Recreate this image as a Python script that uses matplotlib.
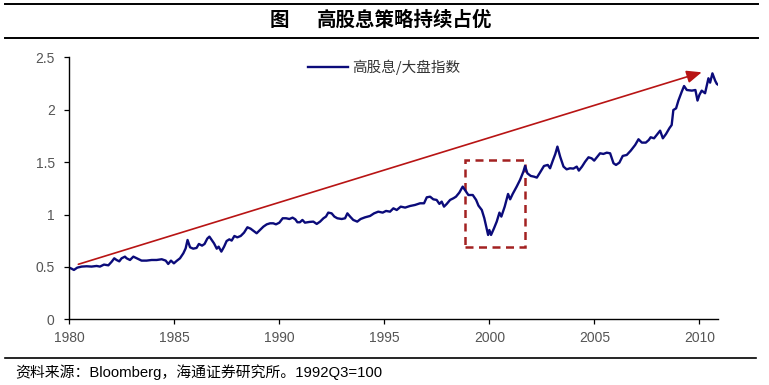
import matplotlib
matplotlib.use("Agg")
import matplotlib.pyplot as plt
from matplotlib.patches import Rectangle
from matplotlib.lines import Line2D

plt.rcParams['font.family'] = ['Liberation Sans', 'Noto Sans CJK SC', 'DejaVu Sans']

# ---- data (decimal year, ratio) ----
years = [
    1980.00, 1980.11, 1980.22, 1980.38, 1980.59, 1980.83, 1981.06, 1981.30, 1981.46, 1981.65,
    1981.86, 1982.02, 1982.14, 1982.25, 1982.38, 1982.49, 1982.65, 1982.73, 1982.89, 1983.05,
    1983.21, 1983.44, 1983.68, 1983.92, 1984.16, 1984.40, 1984.59, 1984.71, 1984.84, 1984.98,
    1985.11, 1985.27, 1985.43, 1985.54, 1985.63, 1985.75, 1985.90, 1986.06, 1986.17, 1986.32,
    1986.44, 1986.57, 1986.67, 1986.76, 1986.89, 1987.02, 1987.11, 1987.24, 1987.37, 1987.49,
    1987.62, 1987.73, 1987.86, 1988.00, 1988.16, 1988.32, 1988.48, 1988.63, 1988.79, 1988.92,
    1989.08, 1989.24, 1989.40, 1989.56, 1989.71, 1989.84, 1990.00, 1990.16, 1990.32, 1990.48,
    1990.63, 1990.76, 1990.86, 1990.98, 1991.10, 1991.22, 1991.43, 1991.62, 1991.78, 1991.94,
    1992.10, 1992.22, 1992.33, 1992.49, 1992.62, 1992.76, 1992.97, 1993.13, 1993.24, 1993.37,
    1993.52, 1993.71, 1993.87, 1994.08, 1994.32, 1994.51, 1994.71, 1994.92, 1995.08, 1995.27,
    1995.43, 1995.59, 1995.78, 1995.99, 1996.22, 1996.46, 1996.70, 1996.89, 1997.02, 1997.18,
    1997.33, 1997.49, 1997.62, 1997.73, 1997.84, 1997.97, 1998.13, 1998.29, 1998.41, 1998.57,
    1998.73, 1998.86, 1999.00, 1999.21, 1999.37, 1999.48, 1999.64, 1999.76, 1999.87, 1999.94,
    2000.00, 2000.08, 2000.22, 2000.35, 2000.48, 2000.57, 2000.73, 2000.89, 2000.99, 2001.11,
    2001.30, 2001.46, 2001.62, 2001.70, 2001.81, 2001.97, 2002.13, 2002.26, 2002.41, 2002.60,
    2002.78, 2002.89, 2003.02, 2003.14, 2003.24, 2003.37, 2003.53, 2003.68, 2003.84, 2004.00,
    2004.16, 2004.26, 2004.41, 2004.56, 2004.72, 2004.87, 2004.99, 2005.14, 2005.27, 2005.43,
    2005.59, 2005.75, 2005.91, 2006.03, 2006.19, 2006.35, 2006.54, 2006.73, 2006.94, 2007.10,
    2007.26, 2007.45, 2007.59, 2007.68, 2007.84, 2008.00, 2008.13, 2008.26, 2008.41, 2008.57,
    2008.68, 2008.76, 2008.89, 2009.00, 2009.16, 2009.27, 2009.40, 2009.64, 2009.81, 2009.91,
    2010.00, 2010.11, 2010.27, 2010.43, 2010.51, 2010.62, 2010.75, 2010.83, 2010.91,
]
ratio = [
    0.493, 0.483, 0.471, 0.493, 0.503, 0.506, 0.503, 0.509, 0.503, 0.522,
    0.515, 0.550, 0.582, 0.566, 0.553, 0.582, 0.598, 0.582, 0.566, 0.598,
    0.582, 0.560, 0.560, 0.566, 0.566, 0.573, 0.560, 0.528, 0.560, 0.534,
    0.557, 0.582, 0.630, 0.677, 0.757, 0.687, 0.674, 0.681, 0.719, 0.703,
    0.719, 0.770, 0.789, 0.763, 0.725, 0.674, 0.693, 0.646, 0.693, 0.747,
    0.763, 0.751, 0.795, 0.782, 0.795, 0.827, 0.878, 0.865, 0.840, 0.821,
    0.852, 0.884, 0.906, 0.916, 0.916, 0.906, 0.922, 0.964, 0.964, 0.957,
    0.970, 0.954, 0.926, 0.926, 0.948, 0.922, 0.929, 0.932, 0.910, 0.932,
    0.964, 0.980, 1.018, 1.011, 0.980, 0.964, 0.957, 0.964, 1.011, 0.980,
    0.948, 0.932, 0.957, 0.973, 0.986, 1.011, 1.027, 1.018, 1.034, 1.027,
    1.059, 1.043, 1.075, 1.066, 1.081, 1.091, 1.107, 1.107, 1.164, 1.170,
    1.145, 1.139, 1.101, 1.123, 1.075, 1.101, 1.139, 1.155, 1.170, 1.209,
    1.266, 1.228, 1.186, 1.186, 1.139, 1.085, 1.043, 0.964, 0.868, 0.805,
    0.852, 0.805, 0.868, 0.932, 1.018, 0.980, 1.075, 1.196, 1.145, 1.196,
    1.266, 1.330, 1.409, 1.463, 1.393, 1.368, 1.361, 1.352, 1.400, 1.463,
    1.473, 1.441, 1.514, 1.578, 1.648, 1.552, 1.457, 1.431, 1.441, 1.438,
    1.457, 1.419, 1.457, 1.504, 1.546, 1.536, 1.514, 1.552, 1.584, 1.578,
    1.590, 1.584, 1.489, 1.473, 1.495, 1.559, 1.568, 1.609, 1.663, 1.718,
    1.686, 1.686, 1.711, 1.737, 1.727, 1.768, 1.800, 1.727, 1.768, 1.823,
    1.854, 1.997, 2.013, 2.087, 2.172, 2.226, 2.188, 2.182, 2.188, 2.087,
    2.141, 2.182, 2.157, 2.300, 2.258, 2.347, 2.277, 2.246, 2.236,
]
series_label = "高股息/大盘指数"
x_ticks = [1980, 1985, 1990, 1995, 2000, 2005, 2010]
y_ticks = [0, 0.5, 1, 1.5, 2, 2.5]
y_tick_labels = ["0", "0.5", "1", "1.5", "2", "2.5"]

# annotation geometry (data coords)
arrow_start = (1980.43, 0.525)
arrow_end = (2010.11, 2.357)
box_x0, box_x1 = 1998.86, 2001.71
box_y0, box_y1 = 0.693, 1.52

title_fig = "图"
title_text = "高股息策略持续占优"
source_text = "资料来源：Bloomberg，海通证券研究所。1992Q3=100"

fig = plt.figure(figsize=(7.69, 3.85), dpi=100)
W, H = 769, 385
ax = fig.add_axes([69.3 / W, 65.7 / H, (718.3 - 69.3) / W, (319.3 - 57.3) / H])

ax.plot(years, ratio, color="#0B0B7A", lw=1.7, solid_joinstyle="round")

ax.set_xlim(1980, 2010.9)
ax.set_ylim(0, 2.5)
ax.set_xticks(x_ticks)
ax.set_xticklabels([str(t) for t in x_ticks])
ax.set_yticks(y_ticks)
ax.set_yticklabels(y_tick_labels)
for s in ["top", "right"]:
    ax.spines[s].set_visible(False)
for s in ["left", "bottom"]:
    ax.spines[s].set_color("black")
    ax.spines[s].set_linewidth(1.0)
ax.tick_params(axis="both", direction="out", length=3.5, width=0.9, colors="black",
               labelcolor="#555555", labelsize=10)
ax.tick_params(axis="x", pad=5)
ax.tick_params(axis="y", pad=7)

# arrow
ax.annotate("", xy=arrow_end, xytext=arrow_start,
            arrowprops=dict(arrowstyle="-|>,head_length=0.9,head_width=0.38",
                            mutation_scale=10, color="#B81414", lw=1.2,
                            shrinkA=0, shrinkB=0))
# dashed box
ax.add_patch(Rectangle((box_x0, box_y0), box_x1 - box_x0, box_y1 - box_y0,
                       fill=False, edgecolor="#A32121", lw=1.8,
                       linestyle=(0, (3.2, 2.2))))

# legend
leg_handle = Line2D([], [], color="#0B0B7A", lw=1.7)
ax.legend([leg_handle], [series_label], loc="upper left",
          bbox_to_anchor=((295 - 69.3) / (718.3 - 69.3), 1.04),
          frameon=False, handlelength=2.7, handletextpad=0.3,
          prop={"family": ["Noto Sans CJK SC"], "size": 10.5},
          labelcolor="#333333")

# title block lines
fig.add_artist(Line2D([5 / W, 758 / W], [1 - 4 / H, 1 - 4 / H], color="black", lw=1.4))
fig.add_artist(Line2D([5 / W, 758 / W], [1 - 37.5 / H, 1 - 37.5 / H], color="black", lw=1.4))
fig.text(279 / W, 1 - 20.5 / H, title_fig, ha="center", va="center",
         fontsize=14, fontweight="bold", family=["Noto Sans CJK SC"])
fig.text(404.5 / W, 1 - 20.5 / H, title_text, ha="center", va="center",
         fontsize=14, fontweight="bold", family=["Noto Sans CJK SC"])

# source
fig.add_artist(Line2D([5 / W, 756 / W], [1 - 357.5 / H, 1 - 357.5 / H], color="black", lw=1.2))
fig.text(15 / W, 1 - 372 / H, source_text, ha="left", va="center", fontsize=10.7,
         family=["Liberation Sans", "Noto Sans CJK SC"], color="black")

fig.savefig("out.png", dpi=100)
